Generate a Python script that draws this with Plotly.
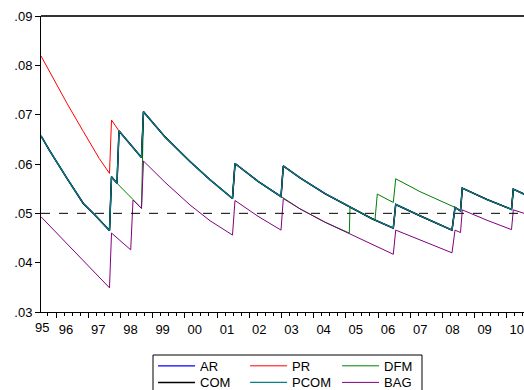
import plotly.graph_objects as go

# Decimal-year dates and values for the common path shared by AR, COM and PCOM
MAIN_DATES = [1995.534, 1995.792, 1996.332, 1996.848, 1997.158, 1997.661, 1997.724,
              1997.894, 1997.957, 1998.320, 1998.655, 1998.717, 1999.385, 2000.161,
              2000.783, 2001.481, 2001.559, 2002.273, 2002.988, 2003.059, 2003.578,
              2004.354, 2005.130, 2005.814, 2006.475, 2006.550, 2007.304, 2008.298,
              2008.391, 2008.562, 2008.618, 2009.385, 2010.146, 2010.202, 2010.534]
MAIN_VALS = [0.0657, 0.0628, 0.0572, 0.0520, 0.0500, 0.0465, 0.0574,
             0.0561, 0.0667, 0.0639, 0.0613, 0.0706, 0.0655, 0.0605,
             0.0568, 0.0530, 0.0601, 0.0565, 0.0534, 0.0596, 0.0572,
             0.0540, 0.0512, 0.0489, 0.0470, 0.0518, 0.0495, 0.0466,
             0.0512, 0.0505, 0.0551, 0.0528, 0.0508, 0.0549, 0.0539]

# PR: its own path until it rejoins the common path
PR_DATES = [1995.534, 1996.332, 1996.848, 1997.345, 1997.661, 1997.724, 1997.957]
PR_VALS = [0.0819, 0.0724, 0.0666, 0.0611, 0.0581, 0.0689, 0.0667]

# DFM: deviates from the common path in 1998 and 2003-2008
DFM_DATES = [1995.534, 1995.792, 1996.332, 1996.848, 1997.158, 1997.661, 1997.724,
             1997.894, 1998.391, 1998.655, 1998.717, 1999.385, 2000.161, 2000.783,
             2001.481, 2001.559, 2002.273, 2002.988, 2003.578, 2004.354, 2005.109,
             2005.130, 2005.814, 2005.907, 2005.978, 2006.475, 2006.550, 2007.304,
             2008.391, 2008.562, 2008.618, 2009.385, 2010.146, 2010.202, 2010.534]
DFM_VALS = [0.0657, 0.0628, 0.0572, 0.0520, 0.0500, 0.0465, 0.0574,
            0.0561, 0.0528, 0.0510, 0.0706, 0.0655, 0.0605, 0.0568,
            0.0530, 0.0601, 0.0565, 0.0534, 0.0509, 0.0482, 0.0460,
            0.0512, 0.0489, 0.0487, 0.0539, 0.0522, 0.0570, 0.0544,
            0.0512, 0.0505, 0.0551, 0.0528, 0.0508, 0.0549, 0.0539]

BAG_DATES = [1995.534, 1996.332, 1996.848, 1997.661, 1997.724, 1998.320, 1998.391,
             1998.655, 1998.717, 1999.385, 2000.161, 2000.783, 2001.481, 2001.559,
             2002.273, 2002.988, 2003.059, 2003.578, 2004.354, 2005.130, 2005.814,
             2006.475, 2006.550, 2007.304, 2008.298, 2008.391, 2008.562, 2008.618,
             2009.385, 2010.146, 2010.202, 2010.534]
BAG_VALS = [0.0493, 0.0439, 0.0405, 0.0349, 0.0460, 0.0426, 0.0527,
            0.0510, 0.0606, 0.0563, 0.0517, 0.0485, 0.0456, 0.0526,
            0.0494, 0.0466, 0.0530, 0.0509, 0.0482, 0.0458, 0.0436,
            0.0417, 0.0466, 0.0446, 0.0420, 0.0466, 0.0461, 0.0507,
            0.0486, 0.0467, 0.0507, 0.0500]

YEARS = list(range(1996, 2011))
YEAR_LABELS = ["96", "97", "98", "99", "00", "01", "02", "03", "04", "05",
               "06", "07", "08", "09", "10"]
Y_TICKS = [0.03, 0.04, 0.05, 0.06, 0.07, 0.08, 0.09]
Y_LABELS = [".03", ".04", ".05", ".06", ".07", ".08", ".09"]
REFERENCE_LEVEL = 0.05

# PR rejoins the common path after its own segment
pr_tail = [i for i, d in enumerate(MAIN_DATES) if d > PR_DATES[-1]]
pr_x = PR_DATES + [MAIN_DATES[i] for i in pr_tail]
pr_y = PR_VALS + [MAIN_VALS[i] for i in pr_tail]

# name, x, y, colour, width, legend row
series = [
    ("AR", MAIN_DATES, MAIN_VALS, "#0000FF", 1.3, "legend"),
    ("PR", pr_x, pr_y, "#FF0000", 1.0, "legend"),
    ("DFM", DFM_DATES, DFM_VALS, "#008000", 1.0, "legend"),
    ("COM", MAIN_DATES, MAIN_VALS, "#000000", 1.5, "legend2"),
    ("PCOM", MAIN_DATES, MAIN_VALS, "#0A8080", 1.2, "legend2"),
    ("BAG", BAG_DATES, BAG_VALS, "#800080", 1.0, "legend2"),
]

FONT = "Arial, 'Liberation Sans', sans-serif"

fig = go.Figure()
for name, xs, ys, color, width, leg in series:
    fig.add_trace(go.Scatter(x=xs, y=ys, mode="lines", name=name, legend=leg,
                             line=dict(color=color, width=width)))

legend_row = dict(orientation="h", xanchor="left", yanchor="middle",
                  borderwidth=0, bgcolor="rgba(0,0,0,0)", entrywidth=40,
                  font=dict(size=13), itemwidth=37)

fig.update_layout(
    width=524, height=390,
    margin=dict(l=41, r=0, t=16, b=78, autoexpand=False),
    paper_bgcolor="white", plot_bgcolor="white",
    font=dict(family=FONT, size=13, color="black"),
    showlegend=True,
    legend=dict(legend_row, x=0.232, y=-0.182),
    legend2=dict(legend_row, x=0.232, y=-0.238),
)

fig.update_xaxes(
    range=[1995.534, 2010.534], showgrid=False, zeroline=False,
    showline=True, linecolor="black", linewidth=1,
    tickmode="array", tickvals=YEARS, ticktext=YEAR_LABELS,
    ticks="outside", ticklen=5, tickcolor="black", ticklabelshift=10,
    ticklabeloverflow="allow", tickfont=dict(size=13),
    minor=dict(tickmode="linear", tick0=1996, dtick=0.25, ticks="outside",
               ticklen=3, tickcolor="black"),
)
fig.update_yaxes(
    range=[0.03, 0.09], showgrid=False, zeroline=False,
    showline=True, linecolor="black", linewidth=1,
    tickmode="array", tickvals=Y_TICKS, ticktext=Y_LABELS,
    ticks="outside", ticklen=5, tickcolor="black", tickfont=dict(size=13),
)

# Label for the first (partial) year at the left end of the axis
fig.add_annotation(x=1995.56, y=0, xref="x", yref="paper", yanchor="top",
                   yshift=-6, text="95", showarrow=False, font=dict(size=13))

# Frame line along the top of the plot
fig.add_shape(type="line", xref="paper", yref="paper", x0=0, x1=1, y0=1, y1=1,
              line=dict(color="#333333", width=2))
# Dashed reference level
fig.add_shape(type="line", xref="paper", yref="y", x0=0, x1=1,
              y0=REFERENCE_LEVEL, y1=REFERENCE_LEVEL,
              line=dict(color="black", width=1, dash="dash"))
# Box around the two legend rows
fig.add_shape(type="rect", xref="paper", yref="paper",
              x0=0.2319, x1=0.7888, y0=-0.1453, y1=-0.285,
              line=dict(color="black", width=1), fillcolor="rgba(0,0,0,0)")

fig.write_html("out.html")
